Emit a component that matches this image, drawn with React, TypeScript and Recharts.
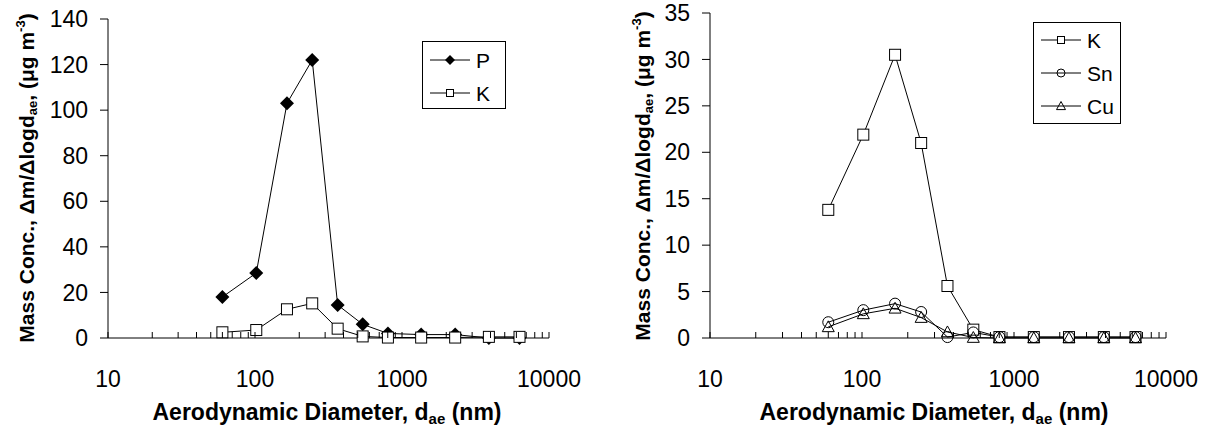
import { LineChart, Line, XAxis, YAxis, Legend, Label } from 'recharts';

const diameters = [60, 102, 165, 245, 365, 540, 802, 1350, 2300, 3900, 6300];

const leftP = [18, 28.5, 103, 122, 14.5, 6, 2, 1.5, 1.5, 0, 0];
const leftK = [2.5, 3.5, 12.6, 15.2, 4.1, 0.7, 0.2, 0.2, 0.2, 0.5, 0.5];

const rightK = [13.8, 21.9, 30.5, 21, 5.6, 0.9, 0.1, 0.1, 0.1, 0.1, 0.1];
const rightSn = [1.7, 3.0, 3.7, 2.8, 0.1, 0.6, 0.1, 0.1, 0.1, 0.1, 0.1];
const rightCu = [1.2, 2.6, 3.2, 2.2, 0.65, 0.05, 0, 0, 0, 0, 0];

const xTicks = [
  10, 20, 30, 40, 50, 60, 70, 80, 90,
  100, 200, 300, 400, 500, 600, 700, 800, 900,
  1000, 2000, 3000, 4000, 5000, 6000, 7000, 8000, 9000,
  10000,
];
const xLabelTicks = [10, 100, 1000, 10000];
const leftYTicks = [0, 20, 40, 60, 80, 100, 120, 140];
const rightYTicks = [0, 5, 10, 15, 20, 25, 30, 35];

const leftData = diameters.map((d, i) => ({ d, P: leftP[i], K: leftK[i] }));
const rightData = diameters.map((d, i) => ({ d, K: rightK[i], Sn: rightSn[i], Cu: rightCu[i] }));

const FONT = '"Liberation Sans", Arial, sans-serif';

type Shape = 'diamond' | 'square' | 'circle' | 'triangle';

function marker(shape: Shape, cx: number, cy: number, s: number, key?: string) {
  if (shape === 'diamond') {
    return (
      <path key={key} d={`M${cx},${cy - s} L${cx + s},${cy} L${cx},${cy + s} L${cx - s},${cy} Z`} fill="#000" />
    );
  }
  if (shape === 'square') {
    return (
      <rect key={key} x={cx - s} y={cy - s} width={s * 2} height={s * 2} fill="#fff" stroke="#000" strokeWidth={1} />
    );
  }
  if (shape === 'circle') {
    return <circle key={key} cx={cx} cy={cy} r={s} fill="none" stroke="#000" strokeWidth={1} />;
  }
  return (
    <path
      key={key}
      d={`M${cx},${cy - s} L${cx + s},${cy + s * 0.8} L${cx - s},${cy + s * 0.8} Z`}
      fill="none"
      stroke="#000"
      strokeWidth={1}
    />
  );
}

const dotOf = (shape: Shape, s: number) => (props: any) =>
  marker(shape, props.cx, props.cy, s, `${shape}-${props.index}`);

const XTick = (props: any) => {
  const { x, y, payload } = props;
  const v = payload.value;
  return (
    <g>
      <line x1={x} x2={x} y1={y} y2={y - 6} stroke="#000" strokeWidth={1} />
      {xLabelTicks.includes(v) && (
        <text x={x} y={y + 49} textAnchor="middle" fontSize={23} fontFamily={FONT} fill="#000">
          {v}
        </text>
      )}
    </g>
  );
};

const XTitle = ({ cx, y }: { cx: number; y: number }) => (
  <text x={cx} y={y} textAnchor="middle" fontSize={23} fontWeight="bold" fontFamily={FONT} fill="#000">
    Aerodynamic Diameter, d
    <tspan fontSize={15} dy={4}>ae</tspan>
    <tspan dy={-4}> (nm)</tspan>
  </text>
);

const YTitle = ({ x, cy }: { x: number; cy: number }) => (
  <text
    transform={`translate(${x},${cy}) rotate(-90)`}
    textAnchor="middle"
    fontSize={21}
    fontWeight="bold"
    fontFamily={FONT}
    fill="#000"
  >
    Mass Conc., Δm/Δlogd
    <tspan fontSize={13} dy={3}>ae</tspan>
    <tspan dy={-3}>, (μg m</tspan>
    <tspan fontSize={13} dy={-9}>-3</tspan>
    <tspan dy={9}>)</tspan>
  </text>
);

interface LegendItem {
  name: string;
  shape: Shape;
  size: number;
}

const LegendBox = ({
  items,
  width,
  height,
  top,
  gap,
}: {
  items: LegendItem[];
  width: number;
  height: number;
  top: number;
  gap: number;
}) => (
  <svg width={width} height={height} style={{ display: 'block' }}>
    <rect x={0.5} y={0.5} width={width - 1} height={height - 1} fill="#fff" stroke="#000" strokeWidth={1} />
    {items.map((it, i) => {
      const y = top + i * gap;
      return (
        <g key={it.name}>
          <line x1={8} x2={48} y1={y} y2={y} stroke="#000" strokeWidth={1} />
          {marker(it.shape, 28, y, it.size)}
          <text x={54} y={y + 7.5} fontSize={21} fontFamily={FONT} fill="#000">
            {it.name}
          </text>
        </g>
      );
    })}
  </svg>
);

const leftLegend: LegendItem[] = [
  { name: 'P', shape: 'diamond', size: 5 },
  { name: 'K', shape: 'square', size: 3.5 },
];
const rightLegend: LegendItem[] = [
  { name: 'K', shape: 'square', size: 3.5 },
  { name: 'Sn', shape: 'circle', size: 4 },
  { name: 'Cu', shape: 'triangle', size: 4.5 },
];

const axisLine = { stroke: '#000', strokeWidth: 1 };
const yTick = { fontSize: 23, fontFamily: FONT, fill: '#000' };

export default function App() {
  return (
    <div style={{ position: 'absolute', left: 0, top: 0, width: 1207, height: 439, background: '#fff' }}>
      <div style={{ position: 'absolute', left: 0, top: 0 }}>
        <LineChart width={600} height={439} data={leftData} margin={{ top: 19, right: 51, bottom: 21, left: 48 }}>
          <XAxis
            dataKey="d"
            type="number"
            scale="log"
            domain={[10, 10000]}
            ticks={xTicks}
            interval={0}
            tick={XTick}
            tickLine={false}
            tickSize={0}
            tickMargin={0}
            axisLine={axisLine}
            height={80}
          >
            <Label content={() => <XTitle cx={327} y={420} />} />
          </XAxis>
          <YAxis
            type="number"
            domain={[0, 140]}
            ticks={leftYTicks}
            interval={0}
            width={60}
            tick={yTick}
            tickSize={8}
            tickMargin={12}
            tickLine={axisLine}
            axisLine={axisLine}
          >
            <Label content={() => <YTitle x={34} cy={178} />} />
          </YAxis>
          <Legend
            layout="vertical"
            align="center"
            verticalAlign="middle"
            wrapperStyle={{ left: 422, top: 41, width: 84, height: 68 }}
            content={() => <LegendBox items={leftLegend} width={84} height={68} top={19} gap={33} />}
          />
          <Line
            dataKey="P"
            stroke="#000"
            strokeWidth={1}
            dot={dotOf('diamond', 7)}
            activeDot={false}
            isAnimationActive={false}
          />
          <Line
            dataKey="K"
            stroke="#000"
            strokeWidth={1}
            dot={dotOf('square', 5.5)}
            activeDot={false}
            isAnimationActive={false}
          />
        </LineChart>
      </div>
      <div style={{ position: 'absolute', left: 600, top: 0 }}>
        <LineChart width={607} height={439} data={rightData} margin={{ top: 13, right: 41, bottom: 21, left: 50 }}>
          <XAxis
            dataKey="d"
            type="number"
            scale="log"
            domain={[10, 10000]}
            ticks={xTicks}
            interval={0}
            tick={XTick}
            tickLine={false}
            tickSize={0}
            tickMargin={0}
            axisLine={axisLine}
            height={80}
          >
            <Label content={() => <XTitle cx={334} y={420} />} />
          </XAxis>
          <YAxis
            type="number"
            domain={[0, 35]}
            ticks={rightYTicks}
            interval={0}
            width={60}
            tick={yTick}
            tickSize={8}
            tickMargin={12}
            tickLine={axisLine}
            axisLine={axisLine}
          >
            <Label content={() => <YTitle x={50} cy={176} />} />
          </YAxis>
          <Legend
            layout="vertical"
            align="center"
            verticalAlign="middle"
            wrapperStyle={{ left: 433, top: 22, width: 88, height: 102 }}
            content={() => <LegendBox items={rightLegend} width={88} height={102} top={18} gap={33} />}
          />
          <Line
            dataKey="K"
            stroke="#000"
            strokeWidth={1}
            dot={dotOf('square', 5.5)}
            activeDot={false}
            isAnimationActive={false}
          />
          <Line
            dataKey="Sn"
            stroke="#000"
            strokeWidth={1}
            dot={dotOf('circle', 5.5)}
            activeDot={false}
            isAnimationActive={false}
          />
          <Line
            dataKey="Cu"
            stroke="#000"
            strokeWidth={1}
            dot={dotOf('triangle', 6)}
            activeDot={false}
            isAnimationActive={false}
          />
        </LineChart>
      </div>
    </div>
  );
}
